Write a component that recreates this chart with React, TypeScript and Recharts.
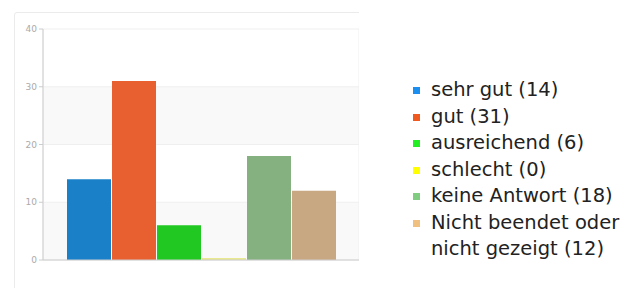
import React from 'react';
import { BarChart, Bar, XAxis, YAxis, CartesianGrid } from 'recharts';

const categories = ['sehr gut', 'gut', 'ausreichend', 'schlecht', 'keine Antwort', 'Nicht beendet oder nicht gezeigt'];
const counts = [14, 31, 6, 0, 18, 12];
const barColors = ['#1a80c8', '#e85f30', '#22c822', '#e8e890', '#85b080', '#c8a882'];
const legendColors = ['#1a8ff0', '#f05a1e', '#22ee22', '#ffff00', '#80cc80', '#f0c080'];
const yTicks = [0, 10, 20, 30, 40];

const row: Record<string, number | string> = { name: 'Antworten' };
categories.forEach((c, i) => {
  row['s' + i] = counts[i];
});
const data = [row];

export default function App() {
  return (
    <div
      style={{
        position: 'absolute',
        left: 0,
        top: 0,
        width: 640,
        height: 288,
        background: '#fff',
        overflow: 'hidden',
        fontFamily: '"DejaVu Sans", sans-serif',
      }}
    >
      {/* chart panel, cropped on the right */}
      <div
        style={{
          position: 'absolute',
          left: 0,
          top: 0,
          width: 359,
          height: 288,
          overflow: 'hidden',
        }}
      >
        <div
          style={{
            position: 'absolute',
            left: 14,
            top: 12,
            width: 400,
            height: 300,
            border: '1px solid #ebebeb',
            borderRadius: 3,
            boxSizing: 'border-box',
          }}
        />
        <div style={{ position: 'absolute', left: 0, top: 0 }}>
          <BarChart
            width={360}
            height={288}
            data={data}
            margin={{ top: 29, right: 1, bottom: 0, left: 0 }}
            barGap={1}
          >
            <CartesianGrid
              stroke="#efefef"
              horizontalFill={['#ffffff', '#f9f9f9']}
              fillOpacity={1}
            />
            <XAxis
              dataKey="name"
              tick={false}
              tickLine={false}
              height={28}
              axisLine={{ stroke: '#cccccc' }}
            />
            <YAxis
              width={43}
              domain={[0, 40]}
              ticks={yTicks}
              interval={0}
              tick={{ fill: '#aaaaaa', fontSize: 9 }}
              tickLine={{ stroke: '#cccccc' }}
              tickSize={4}
              axisLine={{ stroke: '#cccccc' }}
            />
            {categories.map((c, i) => (
              <Bar
                key={c}
                dataKey={'s' + i}
                name={c}
                fill={barColors[i]}
                barSize={44}
                minPointSize={counts[i] === 0 ? 2 : 0}
                isAnimationActive={false}
              />
            ))}
          </BarChart>
        </div>
      </div>

      {/* legend */}
      <div style={{ position: 'absolute', left: 413, top: 77, width: 215 }}>
        {categories.map((c, i) => (
          <div
            key={c}
            style={{
              position: 'relative',
              paddingLeft: 18,
              fontSize: 19.5,
              lineHeight: '26.5px',
              color: '#222222',
            }}
          >
            <span
              style={{
                position: 'absolute',
                left: 0,
                top: 10,
                width: 7,
                height: 7,
                background: legendColors[i],
              }}
            />
            {c} ({counts[i]})
          </div>
        ))}
      </div>
    </div>
  );
}
